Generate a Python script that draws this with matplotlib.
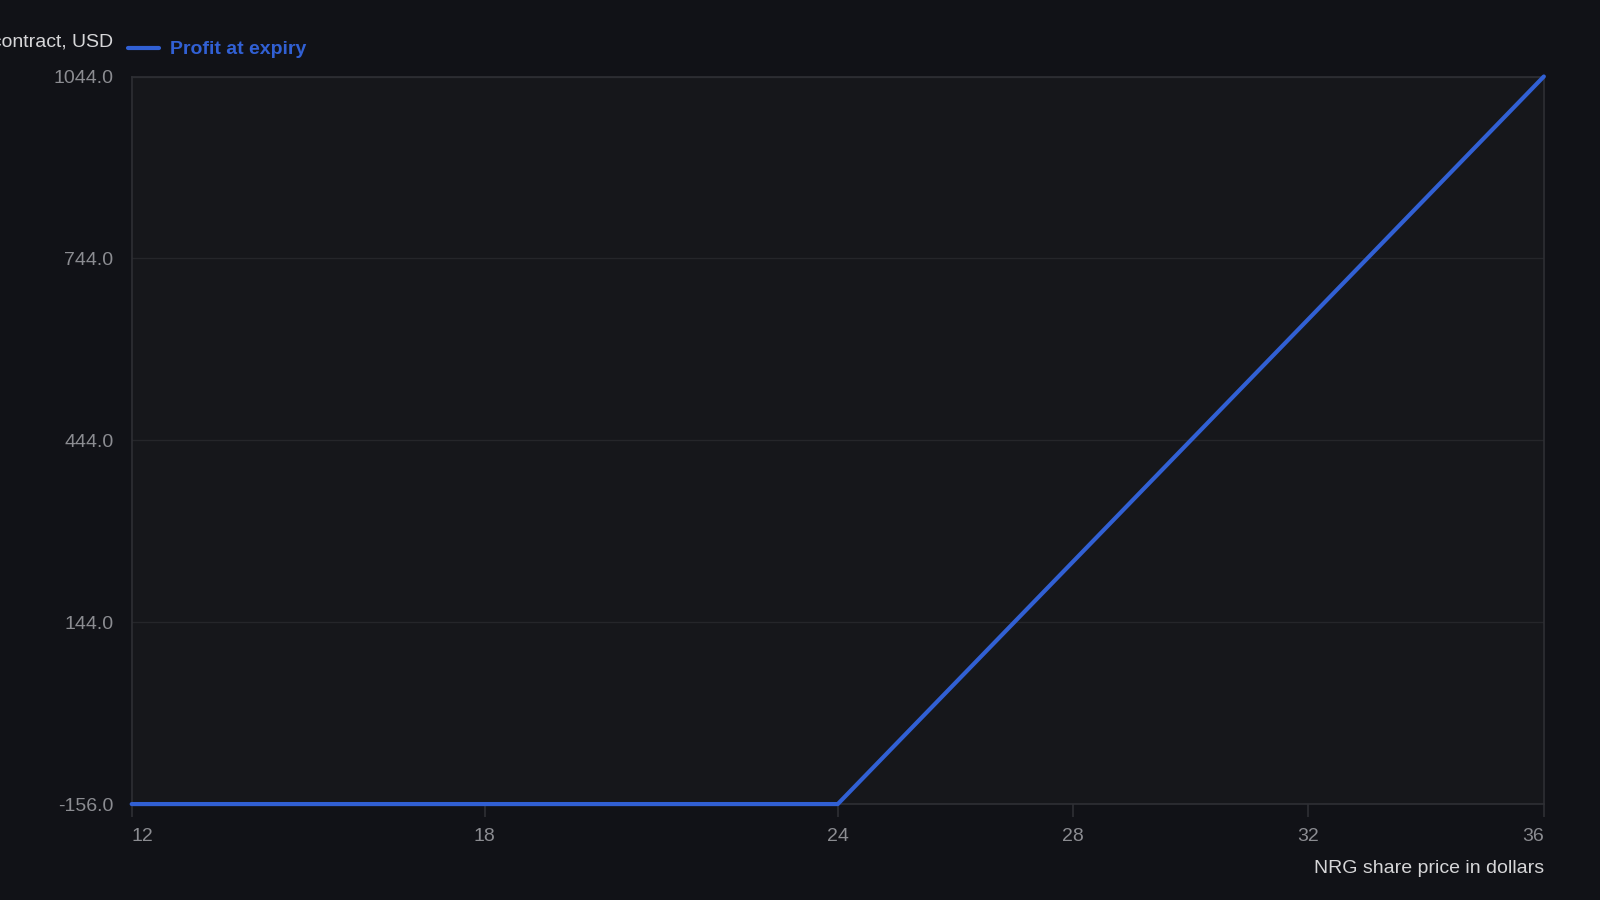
import matplotlib.pyplot as plt

# payoff of the long call, per contract
price = [12, 24, 36]
profit = [-156, -156, 1044]

xticks = [12, 18, 24, 28, 32, 36]
yticks = [-156, 144, 444, 744, 1044]

bg = '#111217'
panel = '#16171b'
grid = '#25262a'
edge = '#2e2f34'
blue = '#3160d4'
tickcol = '#8b8c91'

plt.rcParams['font.family'] = ['Liberation Sans', 'DejaVu Sans']

fig = plt.figure(figsize=(16, 9), dpi=100, facecolor=bg)
ax = fig.add_axes([0.0823, 0.1066, 0.8826, 0.8084])
ax.set_facecolor(panel)

ax.plot(price, profit, color=blue, linewidth=3, solid_capstyle='round',
        solid_joinstyle='round', label='Profit at expiry', zorder=3,
        clip_on=False)

ax.set_xlim(12, 36)
ax.set_ylim(-156, 1044)
ax.set_xticks(xticks)
ax.set_yticks(yticks)
ax.set_yticklabels([f'{v:.1f}' for v in yticks])

ax.grid(axis='y', color=grid, linewidth=1)
ax.set_axisbelow(True)
for s in ax.spines.values():
    s.set_color(edge)
    s.set_linewidth(1.2)

ax.tick_params(axis='x', colors=edge, length=9, width=1.2, pad=8,
               labelcolor=tickcol, labelsize=14)
ax.tick_params(axis='y', length=0, pad=13, labelcolor=tickcol, labelsize=14)

labels = ax.get_xticklabels()
labels[0].set_horizontalalignment('left')
labels[-1].set_horizontalalignment('right')

ax.set_xlabel('NRG share price in dollars', loc='right', color='#d6d6d8',
              fontsize=14, labelpad=11)
fig.text(111 / 1568, 1 - 42 / 882, 'Profit per contract, USD', ha='right',
         va='center', color='#d6d6d8', fontsize=14)

leg = ax.legend(loc='center left', bbox_to_anchor=(-0.008, 1.037), frameon=False,
                handlelength=1.6, handletextpad=0.55, borderaxespad=0,
                prop={'size': 14, 'weight': 'bold'})
for t in leg.get_texts():
    t.set_color(blue)

fig.savefig('out.png', dpi=100, facecolor=bg)
